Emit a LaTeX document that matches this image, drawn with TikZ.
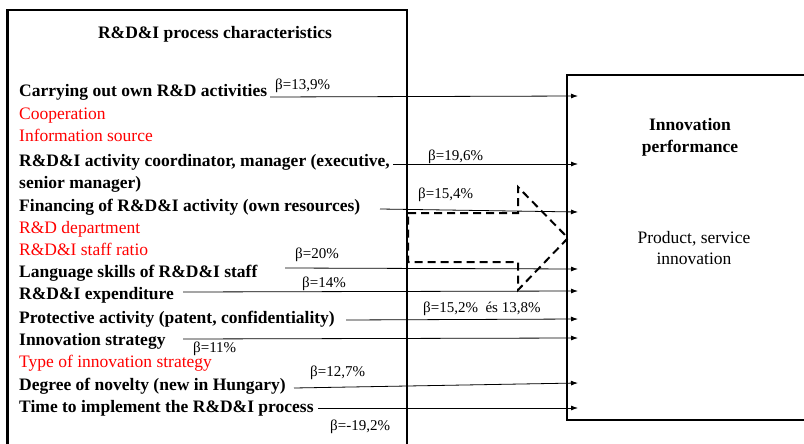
\documentclass[tikz,border=0pt]{standalone}
\usepackage{fontspec}
\setmainfont{Liberation Serif}
\usetikzlibrary{arrows.meta}
\begin{document}
\begin{tikzpicture}[x=1pt,y=-1pt,
  frame/.style={draw=black,line width=2.2pt},
  item/.style={anchor=base west,inner sep=0pt,font=\fontsize{17.5}{21}\selectfont\bfseries},
  redi/.style={anchor=base west,inner sep=0pt,text=red,font=\fontsize{17.5}{21}\selectfont},
  head/.style={anchor=base,inner sep=0pt,font=\fontsize{17.5}{21}\selectfont\bfseries},
  plain/.style={anchor=base,inner sep=0pt,font=\fontsize{17.5}{21}\selectfont},
  beta/.style={anchor=base west,inner sep=0pt,font=\fontsize{15}{18}\selectfont},
  link/.style={draw=black,line width=0.8pt,-{Latex[length=7pt,width=5pt]}},
  flow/.style={draw=black,line width=2pt,dash pattern=on 8pt off 5pt}
]
\useasboundingbox (0,0) rectangle (804,444);

% frames of the two blocks (both run off the page edge)
\begin{scope}
  \clip (0,0) rectangle (804,444);
  \draw[frame] (7.5,9.7) rectangle (407,470);
  \draw[frame] (567,75) rectangle (840,420);
\end{scope}

% left block
\node[head] (title) at (215,39) {R\&D\&I process characteristics};
\node[item] (t1)  at (19,96)  {Carrying out own R\&D activities};
\node[redi] (r1)  at (19,120) {Cooperation};
\node[redi] (r2)  at (19,142) {Information source};
\node[item] (t2)  at (19,166) {R\&D\&I activity coordinator, manager (executive,};
\node[item] (t2b) at (19,188) {senior manager)};
\node[item] (t3)  at (19,211) {Financing of R\&D\&I activity (own resources)};
\node[redi] (r3)  at (19,233) {R\&D department};
\node[redi] (r4)  at (19,255) {R\&D\&I staff ratio};
\node[item] (t4)  at (19,277) {Language skills of R\&D\&I staff};
\node[item] (t5)  at (19,299) {R\&D\&I expenditure};
\node[item] (t6)  at (19,323) {Protective activity (patent, confidentiality)};
\node[item] (t7)  at (19,345) {Innovation strategy};
\node[redi] (r5)  at (19,367) {Type of innovation strategy};
\node[item] (t8)  at (19,390) {Degree of novelty (new in Hungary)};
\node[item] (t9)  at (19,412) {Time to implement the R\&D\&I process};

% right block
\node[head]  (p1) at (690,130) {Innovation};
\node[head]  (p2) at (690,152) {performance};
\node[plain] (p3) at (694,243) {Product, service};
\node[plain] (p4) at (694,264) {innovation};

% connector ends
\coordinate (s1) at (270,97);  \coordinate (e1) at (578,96);
\coordinate (s2) at (393,164); \coordinate (e2) at (578,164);
\coordinate (s3) at (380,209); \coordinate (e3) at (578,212);
\coordinate (s4) at (285,268); \coordinate (e4) at (578,269);
\coordinate (s5) at (183,292); \coordinate (e5) at (578,291);
\coordinate (s6) at (346,320); \coordinate (e6) at (578,319);
\coordinate (s7) at (183,339); \coordinate (e7) at (578,338);
\coordinate (s8) at (294,388); \coordinate (e8) at (578,383);
\coordinate (s9) at (318,408); \coordinate (e9) at (578,408);

\foreach \i in {1,...,9} \draw[link] (s\i) -- (e\i);

% combined effect arrow
\coordinate (a1) at (408,213);
\coordinate (a2) at (518,213);
\coordinate (a3) at (518,187);
\coordinate (a4) at (568,238);
\coordinate (a5) at (518,290);
\coordinate (a6) at (518,262);
\coordinate (a7) at (408,262);
\draw[flow] (a1) -- (a2) -- (a3) -- (a4) -- (a5) -- (a6) -- (a7) -- cycle;

% coefficients
\node[beta] (b1) at (275,90)  {β=13,9\%};
\node[beta] (b2) at (428,160) {β=19,6\%};
\node[beta] (b3) at (418,198) {β=15,4\%};
\node[beta] (b4) at (295,258) {β=20\%};
\node[beta] (b5) at (302,287) {β=14\%};
\node[beta] (b6) at (423,312) {β=15,2\%\ \ és 13,8\%};
\node[beta] (b7) at (193,352) {β=11\%};
\node[beta] (b8) at (310,376) {β=12,7\%};
\node[beta] (b9) at (330,430) {β=-19,2\%};
\end{tikzpicture}
\end{document}
